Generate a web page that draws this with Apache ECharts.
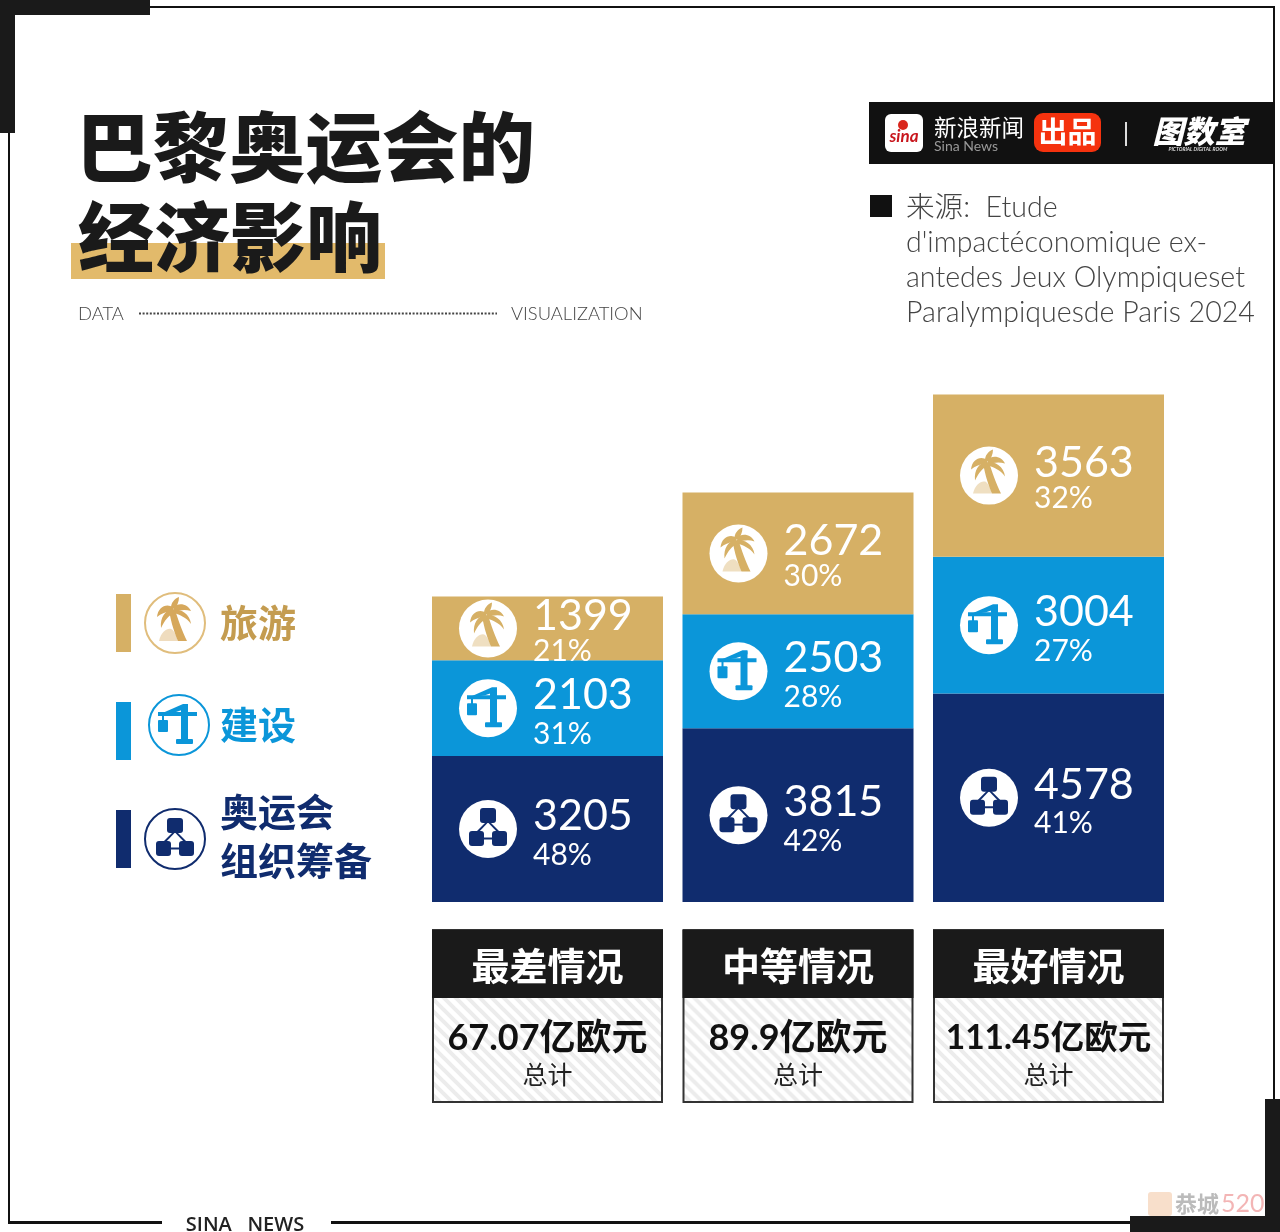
<!DOCTYPE html>
<html>
<head>
<meta charset="utf-8">
<style>html,body{margin:0;padding:0;background:#fff}#main{width:1280px;height:1232px}</style>
<script src="https://cdn.jsdelivr.net/npm/echarts@6/dist/echarts.min.js"></script>
</head>
<body>
<div id="main"></div>
<script>
// 数据
var scenarios = ['最差情况', '中等情况', '最好情况'];
var totals = ['67.07亿欧元', '89.9亿欧元', '111.45亿欧元'];
var organising = [3205, 3815, 4578];
var construction = [2103, 2503, 3004];
var tourism = [1399, 2672, 3563];
var organisingPct = ['48%', '42%', '41%'];
var constructionPct = ['31%', '28%', '27%'];
var tourismPct = ['21%', '30%', '32%'];
var sourceLines = ['来源:  Etude', 'd\'impactéconomique ex-', 'antedes Jeux Olympiqueset', 'Paralympiquesde Paris 2024'];

var GOLD = '#d6b065', BLUE = '#0b96d9', NAVY = '#102c6e', INK = '#1a1a1a';
var CJK = '"Noto Sans CJK SC"';
var NUM = 'Lato, "Noto Sans CJK SC"';

// 图标，坐标以圆心为原点
function iconShapes(kind, color) {
  var p = function (d, op) {
    return { type: 'path', shape: { pathData: d }, style: { fill: color, opacity: op || 1 } };
  };
  var r = function (x, y, w, h, rad) {
    return { type: 'rect', shape: { x: x, y: y, width: w, height: h, r: rad || 0 }, style: { fill: color } };
  };
  if (kind === 'palm') {
    return [
      p('M-16 18C-14 9-8 5-4 6C-1 7 1 12 3 18Z', 0.4),
      p('M-6 -13C-4 0 0 11 3 18L12 18C7 8 3 -4 0 -13Z'),
      p('M-2 -16C-9 -20 -17 -16 -18 -6C-13 -10 -8 -12 -2 -11Z'),
      p('M-3 -14C-10 -12 -15 -6 -14 5C-10 -3 -7 -7 -1 -10Z'),
      p('M-4 -15C-4 -20 -1 -24 4 -26C4 -21 2 -18 0 -14Z'),
      p('M-2 -16C4 -21 13 -19 16 -12C10 -14 4 -13 0 -11Z'),
      p('M-2 -14C6 -14 15 -9 16 1C11 -6 5 -8 -1 -10Z')
    ];
  }
  if (kind === 'crane') {
    return [
      r(2, -20, 7, 37),
      r(-3, 14, 17, 5, 1),
      r(-21, -13, 39, 4),
      p('M-21 -10L4 -21L9 -21L9 -17L-3 -13Z'),
      r(-17, -10, 2, 6),
      r(-21, -5, 10, 12, 1)
    ];
  }
  return [
    p('M-1 -8L-13 4L-11.5 5.5L0 -6.5Z'),
    p('M1 -8L13 4L11.5 5.5L0 -6.5Z'),
    r(-6, 8.5, 12, 2),
    r(-8, -21, 16, 15, 3),
    r(-19, 2, 15, 15, 3),
    r(4, 2, 15, 15, 3)
  ];
}

function midpoints(lower, own) {
  return own.map(function (v, i) { return [i, lower[i] + v / 2]; });
}

// 柱内图标
function iconRender(kind, color) {
  return function (params, api) {
    var c = api.coord([api.value(0), api.value(1)]);
    return {
      type: 'group', x: c[0] - 59.5, y: c[1],
      children: [{ type: 'circle', shape: { cx: 0, cy: 0, r: 29 }, style: { fill: '#fff' } }].concat(iconShapes(kind, color))
    };
  };
}

// 图例图标
var legendKinds = [
  { kind: 'palm', x: 175, y: 623, color: '#d6a85c', stroke: '#e0bd7c' },
  { kind: 'crane', x: 179, y: 725, color: BLUE, stroke: BLUE },
  { kind: 'network', x: 175, y: 839, color: NAVY, stroke: NAVY }
];
function legendRender(params) {
  var k = legendKinds[params.dataIndex];
  return {
    type: 'group', x: k.x, y: k.y,
    children: [{ type: 'circle', shape: { cx: 0, cy: 0, r: 30 }, style: { fill: '#fff', stroke: k.stroke, lineWidth: 2 } }].concat(iconShapes(k.kind, k.color))
  };
}

// 斜纹底
var hatch = document.createElement('canvas');
hatch.width = hatch.height = 12;
(function () {
  var g = hatch.getContext('2d');
  g.fillStyle = '#fff'; g.fillRect(0, 0, 12, 12);
  g.strokeStyle = '#ececec'; g.lineWidth = 4;
  [[-6, -6, 18, 18], [-12, 0, 6, 18], [0, -12, 18, 6]].forEach(function (s) {
    g.beginPath(); g.moveTo(s[0], s[1]); g.lineTo(s[2], s[3]); g.stroke();
  });
})();

// 柱下的情况说明
function footerRender(params, api) {
  var c = api.coord([api.value(0), 0]);
  var i = params.dataIndex, x = c[0] - 115.5, y = c[1];
  var totalSize = totals[i].length > 8 ? 33.5 : 36;
  return {
    type: 'group', x: x, y: y,
    children: [
      { type: 'rect', shape: { x: 1, y: 28, width: 229, height: 172 }, style: { fill: { image: hatch, repeat: 'repeat' }, stroke: '#333', lineWidth: 2 } },
      { type: 'rect', shape: { x: 0, y: 28, width: 231, height: 68 }, style: { fill: INK } },
      { type: 'text', style: { text: scenarios[i], x: 115.5, y: 64, font: 'bold 38px ' + CJK, fill: '#fff', align: 'center', verticalAlign: 'middle' } },
      { type: 'text', style: { text: totals[i], x: 115.5, y: 136, font: 'bold ' + totalSize + 'px ' + NUM, fill: '#111', align: 'center', verticalAlign: 'middle' } },
      { type: 'text', style: { text: '总计', x: 115.5, y: 172, font: '400 25px ' + CJK, fill: '#222', align: 'center', verticalAlign: 'middle' } }
    ]
  };
}

function barSeries(name, values, pct, color, tight) {
  return {
    name: name, type: 'bar', stack: 'total', barWidth: 231,
    data: values,
    itemStyle: { color: color },
    label: {
      show: true, position: 'insideLeft', distance: 101, offset: [0, tight ? 3 : 5],
      formatter: function (p) { return '{n|' + p.value + '}\n{p|' + pct[p.dataIndex] + '}'; },
      rich: {
        n: { fontFamily: 'Lato', fontSize: 43, color: '#fff', lineHeight: tight ? 40 : 42 },
        p: { fontFamily: 'Lato', fontSize: 30, color: '#fff', lineHeight: tight ? 30 : 36 }
      }
    },
    silent: true
  };
}

function txt(text, x, y, font, fill, align) {
  return { type: 'text', z: 5, style: { text: text, x: x, y: y, font: font, fill: fill, align: align || 'left', verticalAlign: 'middle' } };
}
function box(x, y, w, h, fill, r) {
  return { type: 'rect', z: 4, shape: { x: x, y: y, width: w, height: h, r: r || 0 }, style: { fill: fill } };
}

var graphics = [
  // 外框
  box(8, 6, 1267, 2, '#111'), box(8, 60, 2, 1163, '#111'), box(1273, 6, 2, 1100, '#111'),
  box(8, 1221, 154, 3, '#111'), box(331, 1221, 800, 3, '#111'),
  box(0, 0, 150, 15, INK), box(0, 0, 15, 133, INK),
  box(1265, 1099, 15, 133, INK), box(1130, 1216, 150, 16, INK),
  txt('SINA   NEWS', 245, 1225, '600 20px "Open Sans"', '#222', 'center'),
  // 水印
  { type: 'rect', z: 3, shape: { x: 1148, y: 1192, width: 24, height: 24, r: 3 }, style: { fill: '#f4c9a8', opacity: 0.6 } },
  { type: 'text', z: 3, style: { text: '恭城', x: 1175, y: 1204, font: 'bold 22px ' + CJK, fill: '#bbb', verticalAlign: 'middle' } },
  { type: 'text', z: 3, style: { text: '520', x: 1221, y: 1204, font: '400 25px Lato', fill: '#f3b5b5', verticalAlign: 'middle' } },
  // 标题
  box(71, 243, 314, 36, '#e2ba6b'),
  txt('巴黎奥运会的', 76, 147, '900 76.5px ' + CJK, INK),
  txt('经济影响', 78, 237, '900 76px ' + CJK, INK),
  txt('DATA', 78, 314, '300 18.4px Lato', '#444'),
  { type: 'line', z: 4, shape: { x1: 139, y1: 313.5, x2: 497, y2: 313.5 }, style: { stroke: '#444', lineWidth: 2, lineDash: [2, 1.6] } },
  txt('VISUALIZATION', 511, 314, '300 18.4px Lato', '#444'),
  // 品牌条
  box(869, 102, 406, 62, '#111'),
  box(885, 114, 38, 38, '#fff', 6),
  { type: 'circle', z: 5, shape: { cx: 903, cy: 125, r: 5 }, style: { fill: '#d9261c' } },
  txt('sina', 904, 137, 'italic bold 17px Lato', '#c8161d', 'center'),
  txt('新浪新闻', 934, 127, '400 22.5px ' + CJK, '#fff'),
  txt('Sina News', 934, 146, '400 14px Lato', '#999'),
  box(1034, 113, 67, 39, '#f5320e', 9),
  txt('出品', 1067.5, 132, 'bold 29px ' + CJK, '#fff', 'center'),
  box(1125, 122, 2, 24, '#ddd'),
  txt('图数室', 1199, 131, 'italic 900 31px ' + CJK, '#fff', 'center'),
  txt('PICTORIAL DIGITAL ROOM', 1198, 149, 'italic bold 5px Lato', '#ddd', 'center'),
  // 来源
  box(870, 195, 22, 22, '#111')
];
sourceLines.forEach(function (s, i) {
  graphics.push(txt(s, 906, 208 + i * 35, '300 28.6px Lato, ' + CJK, '#444'));
});
// 图例
graphics.push(
  box(116, 594, 15, 58, GOLD),
  txt('旅游', 220, 623, 'bold 38px ' + CJK, '#c49c50'),
  box(116, 702, 15, 58, BLUE),
  txt('建设', 220, 725, 'bold 38px ' + CJK, BLUE),
  box(116, 810, 15, 58, NAVY),
  txt('奥运会', 220, 812, 'bold 38px ' + CJK, NAVY),
  txt('组织筹备', 220, 861, 'bold 38px ' + CJK, NAVY)
);

var chart = echarts.init(document.getElementById('main'));
var lowerTwo = organising.map(function (v, i) { return v + construction[i]; });
chart.setOption({
  animation: false,
  backgroundColor: '#fff',
  grid: { left: 422.25, width: 751.5, top: 310, height: 592 },
  xAxis: { type: 'category', data: scenarios, show: false },
  yAxis: { type: 'value', min: 0, max: 13000, show: false },
  graphic: graphics,
  series: [
    barSeries('奥运会组织筹备', organising, organisingPct, NAVY),
    barSeries('建设', construction, constructionPct, BLUE),
    barSeries('旅游', tourism, tourismPct, GOLD, true),
    { type: 'custom', silent: true, z: 6, renderItem: iconRender('network', NAVY), data: midpoints([0, 0, 0], organising) },
    { type: 'custom', silent: true, z: 6, renderItem: iconRender('crane', BLUE), data: midpoints(organising, construction) },
    { type: 'custom', silent: true, z: 6, renderItem: iconRender('palm', GOLD), data: midpoints(lowerTwo, tourism) },
    { type: 'custom', silent: true, z: 6, renderItem: footerRender, data: scenarios.map(function (s, i) { return [i, 0]; }) },
    { type: 'custom', silent: true, z: 6, coordinateSystem: 'none', renderItem: legendRender, data: [0, 1, 2] }
  ]
});
</script>
</body>
</html>
